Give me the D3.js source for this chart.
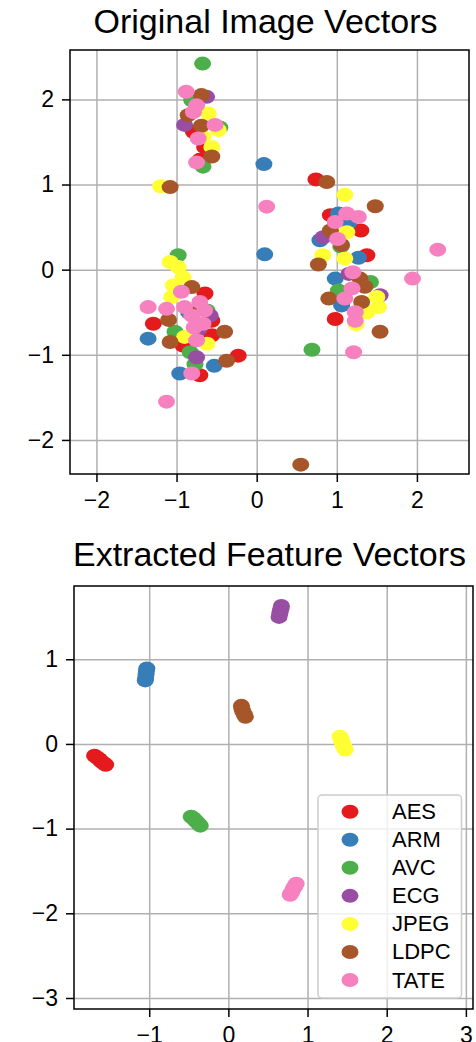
<!DOCTYPE html>
<html>
<head>
<meta charset="utf-8">
<script src="https://cdn.jsdelivr.net/npm/d3@7"></script>
<style>
  body { margin: 0; background: #fff; }
  svg { display: block; font-family: "Liberation Sans", Arial, sans-serif; }
  .grid line { stroke: #b0b0b0; stroke-width: 1.5; }
  .grid .domain { display: none; }
  .axis text { font-size: 23px; fill: #000; }
  .axis line { stroke: #000; stroke-width: 1.5; }
  .axis .domain { display: none; }
</style>
</head>
<body>
<div id="chart"></div>
<script>
// categories and colours (Set1)
const categories = ["AES", "ARM", "AVC", "ECG", "JPEG", "LDPC", "TATE"];
const colors = ["#e41a1c", "#377eb8", "#4daf4a", "#984ea3", "#ffff33", "#a65628", "#f781bf"];

// Original image vectors
const origAES = [[-0.79,1.62],[-0.65,1.44],[-0.71,1.29],[0.74,1.06],[0.92,0.64],[1.30,0.46],[1.375,0.17],[0.98,-0.58],
  [-0.645,-0.28],[-1.29,-0.635],[-0.56,-0.60],[-0.56,-0.77],[-0.92,-0.89],[-0.23,-1.01],[-0.71,-1.24]];
const origARM = [[0.09,1.24],[0.10,0.18],[1.02,0.66],[0.79,0.345],[1.27,0.14],[0.98,-0.105],[1.06,-0.42],[1.15,0.55],
  [-1.355,-0.81],[-0.53,-1.13],[-0.96,-1.22],[-0.85,-0.5]];
const origAVC = [[-0.675,2.42],[-0.81,1.99],[-0.46,1.67],[-0.67,1.21],[1.42,-0.145],[1.02,-0.245],[0.69,-0.94],[1.05,0.27],
  [-0.98,0.17],[-1.02,-0.73],[-0.83,-0.97],[-0.77,-1.11],[-0.62,-0.48]];
const origECG = [[-0.625,2.03],[-0.9,1.70],[0.83,0.38],[1.54,-0.30],[1.15,-0.05],[-0.58,-0.54],[-0.75,-1.03],[-0.72,-0.70]];
const origJPEG = [[-1.2,0.98],[-0.605,1.835],[-0.48,1.64],[-0.56,1.44],[-0.67,1.56],[1.10,0.88],[1.125,0.44],[0.825,0.17],
  [1.10,0.13],[1.5,-0.32],[1.52,-0.44],[1.375,-0.50],[1.24,-0.64],[-1.08,0.09],[-0.98,0.03],[-0.92,-0.09],
  [-1.04,-0.185],[-1.06,-0.32],[-0.90,-0.79],[-0.62,-0.87]];
const origLDPC = [[-0.69,2.05],[-0.855,1.815],[-0.69,1.69],[-0.56,1.33],[-1.08,0.97],[0.875,1.03],[1.48,0.745],[0.92,0.46],
  [1.06,0.29],[0.77,0.06],[1.29,-0.105],[1.35,-0.20],[0.90,-0.34],[1.31,-0.38],[1.54,-0.73],[-0.81,-0.205],
  [-1.10,-0.59],[-0.40,-0.73],[-1.08,-0.85],[-0.375,-1.07],[0.55,-2.29],[-0.7,-0.45]];
const origTATE = [[-0.88,2.09],[-0.75,1.93],[-0.79,1.85],[-0.52,1.70],[-0.73,1.54],[-0.75,1.26],[0.125,0.74],[1.125,0.66],
  [1.27,0.62],[0.98,0.56],[1.01,0.36],[2.26,0.235],[1.945,-0.105],[1.2,-0.03],[1.19,-0.22],[1.10,-0.34],
  [1.23,-0.50],[1.23,-0.60],[1.21,-0.97],[-0.94,-0.26],[-0.71,-0.38],[-1.355,-0.44],[-1.125,-0.46],[-0.90,-0.44],
  [-0.81,-0.54],[-0.67,-0.635],[-0.75,-0.83],[-0.78,-0.68],[-0.65,-0.48],[-0.81,-1.22],[-1.125,-1.55]];

// Extracted feature vectors
const featAES = [[-1.69,-0.14],[-1.66,-0.16],[-1.63,-0.18],[-1.60,-0.21],[-1.57,-0.23],[-1.55,-0.245]];
const featARM = [[-1.03,0.89],[-1.035,0.86],[-1.04,0.82],[-1.045,0.78],[-1.05,0.75]];
const featAVC = [[-0.47,-0.86],[-0.44,-0.88],[-0.41,-0.91],[-0.38,-0.94],[-0.355,-0.965]];
const featECG = [[0.67,1.63],[0.665,1.60],[0.655,1.57],[0.65,1.54],[0.64,1.50]];
const featJPEG = [[1.41,0.085],[1.425,0.05],[1.44,0.01],[1.455,-0.03],[1.475,-0.065]];
const featLDPC = [[0.165,0.45],[0.17,0.42],[0.18,0.39],[0.20,0.35],[0.215,0.32]];
const featTATE = [[0.857,-1.65],[0.84,-1.68],[0.82,-1.71],[0.80,-1.75],[0.78,-1.78]];

const origTicksX = [-2, -1, 0, 1, 2];
const origTicksY = [-2, -1, 0, 1, 2];
const featTicksX = [-1, 0, 1, 2, 3];
const featTicksY = [-3, -2, -1, 0, 1];

const origSeries = [origAES, origARM, origAVC, origECG, origJPEG, origLDPC, origTATE];
const featSeries = [featAES, featARM, featAVC, featECG, featJPEG, featLDPC, featTATE];

const svg = d3.select("#chart").append("svg")
  .attr("width", 476)
  .attr("height", 1042);

const rx = 8.5, ry = 7;
const fmt = d3.format("d");

function panel(opts) {
  const x = d3.scaleLinear().domain(opts.xDomain).range([opts.left, opts.right]);
  const y = d3.scaleLinear().domain(opts.yDomain).range([opts.bottom, opts.top]);
  const w = opts.right - opts.left, h = opts.bottom - opts.top;

  // grid
  svg.append("g")
      .attr("class", "grid")
      .attr("transform", "translate(0," + opts.bottom + ")")
    .call(d3.axisBottom(x).tickValues(opts.ticksX).tickSize(-h).tickFormat(""));
  svg.append("g")
      .attr("class", "grid")
      .attr("transform", "translate(" + opts.left + ",0)")
    .call(d3.axisLeft(y).tickValues(opts.ticksY).tickSize(-w).tickFormat(""));

  // points, one layer per category in order
  opts.series.forEach(function(pts, i) {
    svg.append("g").selectAll("ellipse")
      .data(pts)
      .enter()
      .append("ellipse")
        .attr("cx", function(d) { return x(d[0]); })
        .attr("cy", function(d) { return y(d[1]); })
        .attr("rx", rx)
        .attr("ry", ry)
        .attr("fill", colors[i]);
  });

  // frame
  svg.append("rect")
      .attr("x", opts.left)
      .attr("y", opts.top)
      .attr("width", w)
      .attr("height", h)
      .attr("fill", "none")
      .attr("stroke", "#000")
      .attr("stroke-width", 1.5);

  svg.append("g")
      .attr("class", "axis")
      .attr("transform", "translate(0," + opts.bottom + ")")
    .call(d3.axisBottom(x).tickValues(opts.ticksX).tickFormat(fmt).tickSize(8).tickPadding(10));
  svg.append("g")
      .attr("class", "axis")
      .attr("transform", "translate(" + opts.left + ",0)")
    .call(d3.axisLeft(y).tickValues(opts.ticksY).tickFormat(fmt).tickSize(8).tickPadding(8));

  svg.append("text")
      .attr("x", (opts.left + opts.right) / 2 - 4)
      .attr("y", opts.titleY)
      .attr("text-anchor", "middle")
      .attr("font-size", 34)
      .attr("fill", "#000")
      .text(opts.title);

  return {x: x, y: y};
}

panel({
  title: "Original Image Vectors", titleY: 33,
  left: 70, right: 469, top: 50, bottom: 474,
  xDomain: [-2.33, 2.65], yDomain: [-2.4, 2.58],
  ticksX: origTicksX, ticksY: origTicksY,
  series: origSeries
});

panel({
  title: "Extracted Feature Vectors", titleY: 566,
  left: 74, right: 473, top: 586, bottom: 1009,
  xDomain: [-1.95, 3.09], yDomain: [-3.13, 1.865],
  ticksX: featTicksX, ticksY: featTicksY,
  series: featSeries
});

// legend
const legend = svg.append("g").attr("transform", "translate(318,795)");
legend.append("rect")
    .attr("width", 143.5)
    .attr("height", 203)
    .attr("rx", 4)
    .attr("fill", "#fff")
    .attr("fill-opacity", 0.8)
    .attr("stroke", "#cccccc")
    .attr("stroke-width", 1.5);

const item = legend.selectAll(".item")
  .data(categories)
  .enter()
  .append("g")
    .attr("transform", function(d, i) { return "translate(0," + (16.7 + i * 28.05) + ")"; });
item.append("ellipse")
    .attr("cx", 32)
    .attr("rx", rx)
    .attr("ry", ry)
    .attr("fill", function(d, i) { return colors[i]; });
item.append("text")
    .attr("x", 74)
    .attr("y", 7.5)
    .attr("font-size", 22)
    .attr("fill", "#000")
    .text(function(d) { return d; });
</script>
</body>
</html>
